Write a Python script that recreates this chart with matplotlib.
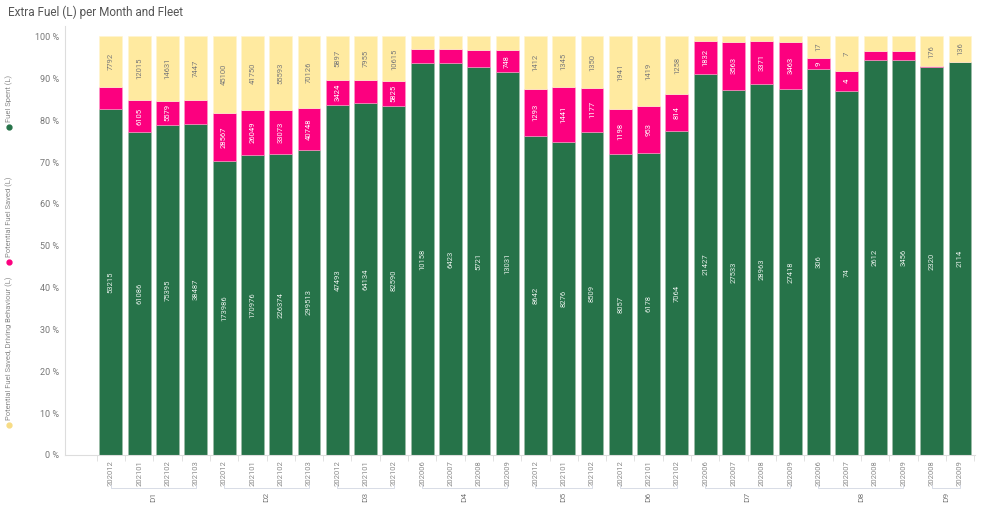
import matplotlib.pyplot as plt
from matplotlib.lines import Line2D

plt.rcParams['font.family'] = ['Roboto', 'DejaVu Sans']

# Data
fleets = ['D1'] * 4 + ['D2'] * 4 + ['D3'] * 3 + ['D4'] * 4 + ['D5'] * 3 + ['D6'] * 3 + ['D7'] * 4 + ['D8'] * 4 + ['D9'] * 2
months = ['202012', '202101', '202102', '202103',
          '202012', '202101', '202102', '202103',
          '202012', '202101', '202102',
          '202006', '202007', '202008', '202009',
          '202012', '202101', '202102',
          '202012', '202101', '202102',
          '202006', '202007', '202008', '202009',
          '202006', '202007', '202008', '202009',
          '202008', '202009']
fuel_spent = [53215, 61086, 75395, 38487,
              173986, 170976, 226374, 299513,
              47493, 64134, 82590,
              10158, 6423, 5721, 13031,
              8642, 8276, 8509,
              8057, 6178, 7064,
              21427, 27533, 28963, 27418,
              306, 74, 2612, 3456,
              2320, 2114]
fuel_saved = [3390, 6105, 5579, 2749,
              28567, 26049, 33073, 40748,
              3424, 4084, 5825,
              358, 226, 253, 748,
              1293, 1441, 1177,
              1198, 953, 814,
              1832, 3563, 3371, 3463,
              9, 4, 61, 81,
              6, 3]
fuel_saved_driving = [7792, 12015, 14631, 7447,
                      45100, 41750, 55593, 70126,
                      5897, 7955, 10615,
                      336, 213, 204, 478,
                      1412, 1345, 1350,
                      1941, 1419, 1258,
                      250, 440, 327, 440,
                      17, 7, 97, 124,
                      176, 136]

c_green = '#267349'
c_pink = '#fc007f'
c_yellow = '#ffeaa0'

fig = plt.figure(figsize=(10.04, 5.12), dpi=100)
ax = fig.add_axes([65 / 1004, 57 / 512, 910 / 1004, 429 / 512])

n = len(months)
x = list(range(n))
totals = [a + b + c for a, b, c in zip(fuel_spent, fuel_saved, fuel_saved_driving)]
p_green = [100 * a / t for a, t in zip(fuel_spent, totals)]
p_pink = [100 * a / t for a, t in zip(fuel_saved, totals)]
p_yellow = [100 * a / t for a, t in zip(fuel_saved_driving, totals)]
bottom_pink = p_green
bottom_yellow = [a + b for a, b in zip(p_green, p_pink)]

w = 0.81
ax.bar(x, p_green, width=w, color=c_green, edgecolor='#9fbfa9', linewidth=0.4)
ax.bar(x, p_pink, width=w, bottom=bottom_pink, color=c_pink, edgecolor='#ff9cc9', linewidth=0.4)
ax.bar(x, p_yellow, width=w, bottom=bottom_yellow, color=c_yellow, edgecolor='#fff4d0', linewidth=0.4)

px_per_pct = 4.185
fs = 5.5


# only label a segment when the rotated number fits inside it
def add_labels(vals, pcts, bottoms, color):
    for i, (v, p, b) in enumerate(zip(vals, pcts, bottoms)):
        s = str(v)
        if p * px_per_pct >= 4.4 * len(s) + 6.5:
            ax.text(i, b + p / 2, s, rotation=90, ha='center', va='center',
                    fontsize=fs, color=color)


add_labels(fuel_spent, p_green, [0] * n, '#e4eee8')
add_labels(fuel_saved, p_pink, bottom_pink, '#ffffff')
add_labels(fuel_saved_driving, p_yellow, bottom_yellow, '#7a7a7a')

ax.set_xlim(-1.62, 30.53)
ax.set_ylim(0, 102.5)
ax.set_yticks(range(0, 101, 10))
ax.set_yticklabels([f'{v} %' for v in range(0, 101, 10)], fontsize=6.5, color='#777777')
ax.tick_params(axis='y', length=0, pad=4)

ax.set_xticks(x)
ax.set_xticklabels(months, rotation=90, fontsize=5.5, color='#8a8a8a')
ax.tick_params(axis='x', which='major', length=0, pad=4)
ax.set_xticks([i - 0.5 for i in range(n + 1)], minor=True)
ax.tick_params(axis='x', which='minor', length=4, color='#dddddd', width=0.6)

for side in ['top', 'right']:
    ax.spines[side].set_visible(False)
ax.spines['left'].set_color('#dddddd')
ax.spines['bottom'].set_color('#dddddd')
ax.spines['left'].set_linewidth(0.8)
ax.spines['bottom'].set_linewidth(0.8)

# fleet group brackets
tr = ax.get_xaxis_transform()
groups = []
for i, f in enumerate(fleets):
    if groups and groups[-1][0] == f:
        groups[-1][2] = i
    else:
        groups.append([f, i, i])
for f, i0, i1 in groups:
    ax.plot([i0, i0, i1, i1], [-0.07, -0.077, -0.077, -0.07], transform=tr,
            color='#d8dce6', linewidth=0.7, clip_on=False)
    ax.text((i0 + i1) / 2, -0.098, f, transform=tr, rotation=90, ha='center', va='center',
            fontsize=6, color='#7a7a7a')

# vertical legend on the left
legend = [('Fuel Spent (L)', c_green, 127),
          ('Potential Fuel Saved (L)', c_pink, 262),
          ('Potential Fuel Saved, Driving Behaviour (L)', '#f7dc85', 425)]
for label, col, ypx in legend:
    fig.add_artist(Line2D([9 / 1004], [1 - ypx / 512], marker='o', markersize=3.5,
                          color=col, linestyle='none'))
    fig.text(9 / 1004, 1 - (ypx - 5) / 512, label, rotation=90, ha='center', va='bottom',
             fontsize=5.5, color='#8a8a8a')

fig.text(8 / 1004, 1 - 12 / 512, 'Extra Fuel (L) per Month and Fleet', ha='left', va='center',
         fontsize=8.5, color='#555555')

fig.savefig('out.png', dpi=100, facecolor='white')
